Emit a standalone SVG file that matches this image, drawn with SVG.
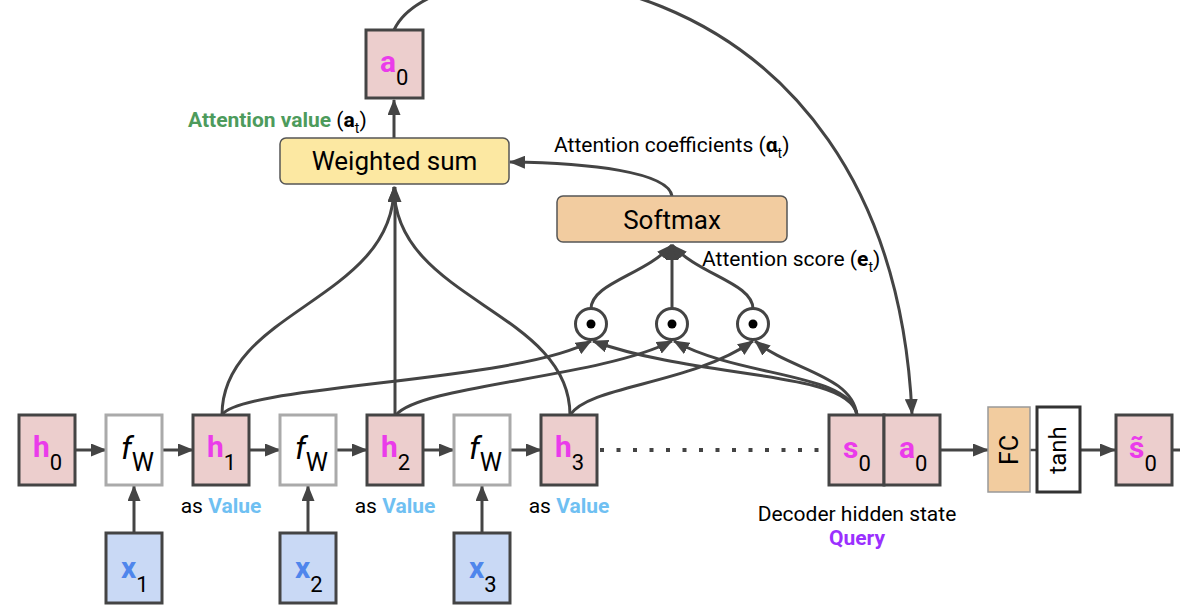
<svg xmlns="http://www.w3.org/2000/svg" width="1180" height="610" viewBox="0 0 1180 610">
<defs>
<style>
text{font-family:Roboto,"Liberation Sans",sans-serif;fill:#000}
.pk{fill:#eccecd;stroke:#444;stroke-width:3}
.fw{fill:#fff;stroke:#aaa;stroke-width:3}
.xb{fill:#c9d9f5;stroke:#444;stroke-width:3}
.v{font-weight:bold;font-size:30px;fill:#ea3cea}
.vx{font-weight:bold;font-size:30px;fill:#4f86ec}
.sb{font-size:22px;fill:#000;font-weight:normal}
.lb{font-size:21px}
.bl{font-weight:bold;fill:#6fc0f2}
.gr{font-weight:bold;fill:#4d9b5c}
.q{font-weight:bold;fill:#9b30ff}
.c{fill:none;stroke:#444;stroke-width:3}
.ca{fill:none;stroke:#444;stroke-width:3;marker-end:url(#ah)}
.circ{fill:#fff;stroke:#444;stroke-width:3}
</style>
<marker id="ah" viewBox="0 0 16 13" refX="15" refY="6.5" markerWidth="16" markerHeight="13" markerUnits="userSpaceOnUse" orient="auto"><path d="M0,0 L16,6.5 L0,13 z" fill="#444"/></marker>
</defs>
<rect width="1180" height="610" fill="#fff"/>

<g id="connectors">
<path class="ca" d="M75,450 L106,450"/>
<path class="ca" d="M162,450 L193,450"/>
<path class="ca" d="M249,450 L280,450"/>
<path class="ca" d="M336,450 L367,450"/>
<path class="ca" d="M423,450 L454,450"/>
<path class="ca" d="M510,450 L541,450"/>
<path d="M600,450 L829,450" fill="none" stroke="#444" stroke-width="4" stroke-dasharray="4 12.5"/>
<path class="ca" d="M134,533 L134,486"/>
<path class="ca" d="M308,533 L308,486"/>
<path class="ca" d="M482,533 L482,486"/>
<path class="ca" d="M222,415 C222,310 394,300 394,187"/>
<path class="ca" d="M395,415 L395,187"/>
<path class="ca" d="M570,415 C570,310 394,300 394,187"/>
<path class="ca" d="M222,415 C240,385 520,382 591,341"/>
<path class="ca" d="M396,415 C420,385 600,378 672,341"/>
<path class="ca" d="M570,415 C590,385 690,385 753,341"/>
<path class="ca" d="M857,415 C850,370 700,380 593,341"/>
<path class="ca" d="M857,415 C850,372 740,378 674,341"/>
<path class="ca" d="M857,415 C852,375 790,370 755,341"/>
<path class="ca" d="M591,309 C591,283 645,275 672,245"/>
<path class="ca" d="M672,309 L672,245"/>
<path class="ca" d="M753,309 C753,283 699,275 672,245"/>
<path class="ca" d="M672,196 C668,172 590,163 510,162"/>
<path class="ca" d="M394,138 L394,100"/>
<path class="ca" d="M394,30 C440,-70 890,-60 912,414"/>
<path class="ca" d="M940,450 L988,450"/>
<path d="M1030,450 L1037,450" fill="none" stroke="#444" stroke-width="2.5"/>
<path class="ca" d="M1080,450 L1115,450"/>
<path class="c" d="M1172,450 L1180,450"/>
</g>

<g id="a0_top"><rect class="pk" x="366" y="30" width="57" height="68"/><text x="380" y="72" class="v">a<tspan class="sb" dy="13">0</tspan></text></g>
<g id="weighted_sum"><rect x="280" y="138" width="229" height="46" rx="6" fill="#fce8a2" stroke="#555" stroke-width="1.5"/><text x="394.5" y="170" font-size="26" text-anchor="middle">Weighted sum</text></g>
<g id="softmax"><rect x="557" y="196" width="230" height="46" rx="6" fill="#f2cca0" stroke="#555" stroke-width="1.5"/><text x="672" y="229" font-size="26" text-anchor="middle">Softmax</text></g>

<g id="dot1"><circle class="circ" cx="591" cy="324" r="15.5"/><circle cx="591" cy="324" r="4.5" fill="#000"/></g>
<g id="dot2"><circle class="circ" cx="672" cy="324" r="15.5"/><circle cx="672" cy="324" r="4.5" fill="#000"/></g>
<g id="dot3"><circle class="circ" cx="753" cy="324" r="15.5"/><circle cx="753" cy="324" r="4.5" fill="#000"/></g>

<g id="h0"><rect class="pk" x="19" y="415" width="56" height="70"/><text x="33" y="457" class="v">h<tspan class="sb" dy="13">0</tspan></text></g>
<g id="fw1"><rect class="fw" x="106" y="415" width="56" height="70"/><text x="121" y="459" font-size="32" font-style="italic">f<tspan font-size="25" font-style="normal" dy="12">W</tspan></text></g>
<g id="h1"><rect class="pk" x="193" y="415" width="56" height="70"/><text x="207" y="457" class="v">h<tspan class="sb" dy="13">1</tspan></text></g>
<g id="fw2"><rect class="fw" x="280" y="415" width="56" height="70"/><text x="295" y="459" font-size="32" font-style="italic">f<tspan font-size="25" font-style="normal" dy="12">W</tspan></text></g>
<g id="h2"><rect class="pk" x="367" y="415" width="56" height="70"/><text x="381" y="457" class="v">h<tspan class="sb" dy="13">2</tspan></text></g>
<g id="fw3"><rect class="fw" x="454" y="415" width="56" height="70"/><text x="469" y="459" font-size="32" font-style="italic">f<tspan font-size="25" font-style="normal" dy="12">W</tspan></text></g>
<g id="h3"><rect class="pk" x="541" y="415" width="56" height="70"/><text x="555" y="457" class="v">h<tspan class="sb" dy="13">3</tspan></text></g>

<g id="x1"><rect class="xb" x="106" y="533" width="56" height="70"/><text x="121" y="578" class="vx">x<tspan class="sb" dy="14">1</tspan></text></g>
<g id="x2"><rect class="xb" x="280" y="533" width="56" height="70"/><text x="295" y="578" class="vx">x<tspan class="sb" dy="14">2</tspan></text></g>
<g id="x3"><rect class="xb" x="454" y="533" width="56" height="70"/><text x="469" y="578" class="vx">x<tspan class="sb" dy="14">3</tspan></text></g>

<g id="s0"><rect class="pk" x="829" y="415" width="55" height="70"/><text x="843" y="458" class="v">s<tspan class="sb" dy="13">0</tspan></text></g>
<g id="a0_dec"><rect class="pk" x="884" y="415" width="56" height="70"/><text x="899" y="458" class="v">a<tspan class="sb" dy="13">0</tspan></text></g>
<g id="fc"><rect x="988" y="407" width="42" height="85" fill="#f2cc9f" stroke="#999" stroke-width="1.5"/><text transform="translate(1018,450) rotate(-90)" font-size="25" text-anchor="middle">FC</text></g>
<g id="tanh"><rect x="1037" y="407" width="43" height="85" fill="#fff" stroke="#333" stroke-width="3"/><text transform="translate(1066,450) rotate(-90)" font-size="24" text-anchor="middle">tanh</text></g>
<g id="s_tilde0"><rect class="pk" x="1116" y="415" width="56" height="70"/><text x="1129" y="458" class="v">s&#x303;<tspan class="sb" dy="13">0</tspan></text></g>

<g id="labels">
<text x="188" y="127" class="lb"><tspan class="gr">Attention value</tspan> (<tspan font-weight="bold">a</tspan><tspan font-size="14" dy="6">t</tspan><tspan dy="-6">)</tspan></text>
<text x="554" y="152" class="lb">Attention coefficients (<tspan font-weight="bold">α</tspan><tspan font-size="14" dy="6">t</tspan><tspan dy="-6">)</tspan></text>
<text x="702" y="266" class="lb">Attention score (<tspan font-weight="bold">e</tspan><tspan font-size="14" dy="6">t</tspan><tspan dy="-6">)</tspan></text>
<text x="221" y="513" class="lb" text-anchor="middle">as <tspan class="bl">Value</tspan></text>
<text x="395" y="513" class="lb" text-anchor="middle">as <tspan class="bl">Value</tspan></text>
<text x="569" y="513" class="lb" text-anchor="middle">as <tspan class="bl">Value</tspan></text>
<text x="857" y="521" class="lb" text-anchor="middle">Decoder hidden state</text>
<text x="857" y="545" class="lb q" text-anchor="middle">Query</text>
</g>
</svg>
